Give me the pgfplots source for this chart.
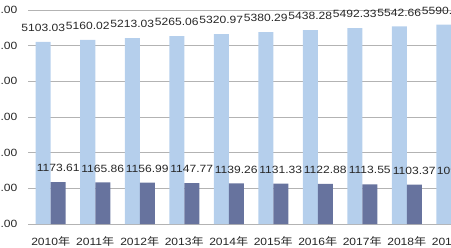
\documentclass[border=0pt]{standalone}
\usepackage{pgfplots}
\usepackage{pgfplotstable}
\pgfplotsset{compat=1.18}
\usepackage{fontspec}
\setmainfont{Liberation Sans}[FakeStretch=1.15]
\newfontfamily\cjk{Noto Sans CJK SC}[FakeStretch=1.15]
\newcommand\lab{\fontsize{10.5bp}{12bp}\selectfont}
\newcommand\nian{{\cjk 年}}
\definecolor{lightbar}{HTML}{B5CFEC}
\definecolor{darkbar}{HTML}{67739E}
\definecolor{gridc}{HTML}{B3B3B3}
\definecolor{txt}{HTML}{262626}
\pgfplotstableread{
x y lab
0 5103.03 5103.03
1 5160.02 5160.02
2 5213.03 5213.03
3 5265.06 5265.06
4 5320.97 5320.97
5 5380.29 5380.29
6 5438.28 5438.28
7 5492.33 5492.33
8 5542.66 5542.66
9 5590.41 5590.41
}\lightdata
\pgfplotstableread{
x y lab
0 1173.61 1173.61
1 1165.86 1165.86
2 1156.99 1156.99
3 1147.77 1147.77
4 1139.26 1139.26
5 1131.33 1131.33
6 1122.88 1122.88
7 1113.55 1113.55
8 1103.37 1103.37
9 1093.16 1093.16
}\darkdata
\begin{document}
\begin{tikzpicture}
\begin{scope}
\clip (0,0) rectangle (451bp,248bp);
\begin{axis}[
  at={(28.5bp,24bp)}, anchor=south west,
  scale only axis, width=445bp, height=214bp,
  xmin=-0.5, xmax=9.5, ymin=0, ymax=6000,
  clip=false,
  ybar=0pt, bar width=15bp,
  axis line style={draw=none},
  major tick length=0pt,
  ymajorgrids, grid style={gridc, line width=0.8bp},
  ytick={0,1000,...,6000},
  scaled y ticks=false,
  /pgf/number format/.cd, fixed, fixed zerofill, precision=2, 1000 sep={}, assume math mode=true,
  /pgfplots/.cd,
  yticklabel style={font=\lab, text=txt, anchor=east, inner sep=0pt, xshift=-11bp},
  xtick={0,...,9},
  xticklabels={2010\nian,2011\nian,2012\nian,2013\nian,2014\nian,2015\nian,2016\nian,2017\nian,2018\nian,2019\nian},
  xticklabel style={font=\lab, text=txt, anchor=north, inner sep=0pt, yshift=-12bp},
  nodes near coords,
  point meta=explicit symbolic,
  every node near coord/.append style={font=\lab, text=txt, anchor=south, inner sep=0pt, yshift=10bp},
]
\addplot[fill=lightbar, draw=none] table[x=x, y=y, meta=lab] {\lightdata};
\addplot[fill=darkbar, draw=none] table[x=x, y=y, meta=lab] {\darkdata};
\end{axis}
\end{scope}
\pgfresetboundingbox
\useasboundingbox (0,0) rectangle (451bp,248bp);
\end{tikzpicture}
\end{document}
